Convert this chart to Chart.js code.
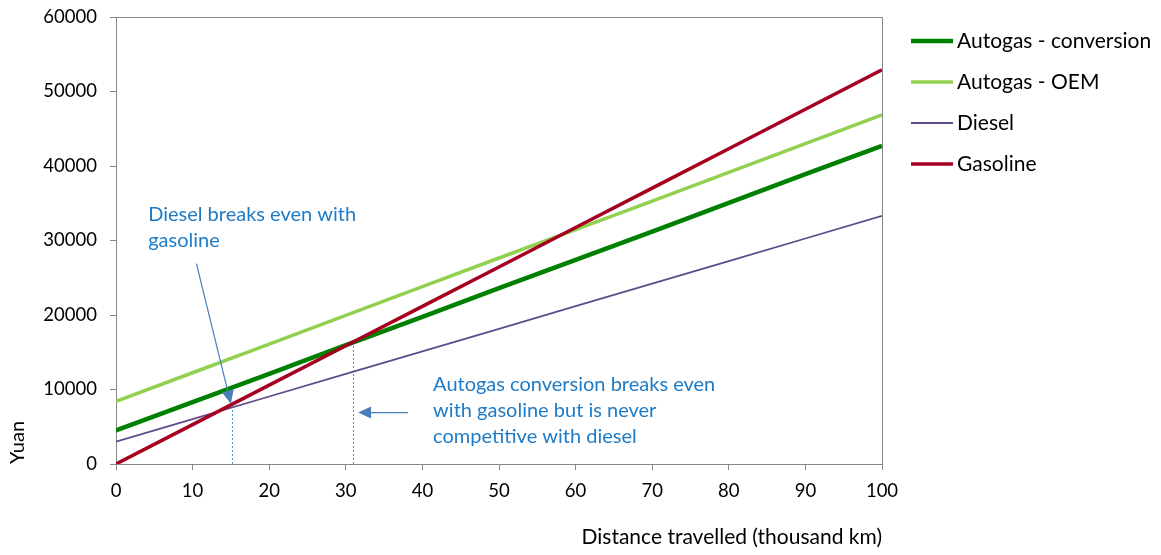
<!DOCTYPE html>
<html>
<head>
<meta charset="utf-8">
<script src="https://cdn.jsdelivr.net/npm/chart.js@4/dist/chart.umd.min.js"></script>
<style>
  html, body { margin: 0; padding: 0; background: #fff; }
  #wrap { width: 1161px; height: 555px; position: relative; }
</style>
</head>
<body>
<div id="wrap"><canvas id="grafico"></canvas></div>
<script>
// distance travelled (thousand km)
const distancia = [0, 10, 20, 30, 40, 50, 60, 70, 80, 90, 100];

// costs in yuan
const autogasConversion = [4500, 8300, 12100, 15950, 19750, 23600, 27400, 31200, 35050, 38900, 42700];
const autogasOEM = [8400, 12250, 16100, 19950, 23800, 27650, 31450, 35300, 39150, 43000, 46850];
const diesel = [3000, 6030, 9060, 12090, 15120, 18150, 21180, 24210, 27240, 30270, 33300];
const gasoline = [0, 5290, 10580, 15870, 21160, 26450, 31740, 37030, 42320, 47610, 52900];

const seriesNames = ['Autogas - conversion', 'Autogas - OEM', 'Diesel', 'Gasoline'];
const yTicks = [0, 10000, 20000, 30000, 40000, 50000, 60000];

// break-even points marked with dashed drop lines (x, y)
const breakEvens = [[15.2, 7700], [31, 16300]];

const FONT = 'Lato, "Open Sans", sans-serif';
const TXT = 20;
const AZUL = '#1f7bc6';
const FLECHA = '#4a7ebb';

function puntos(valores) {
    return distancia.map((d, i) => ({ x: d, y: valores[i] }));
}

// notes and arrows, in data coordinates
const notas = [
    { lineas: ['Diesel breaks even with', 'gasoline'], x: 4.2, y: 33500 },
    { lineas: ['Autogas conversion breaks even', 'with gasoline but is never', 'competitive with diesel'], x: 41.4, y: 10650 }
];
const flechas = [
    { desde: [10.5, 26900], hasta: [15.0, 8100] },
    { desde: [38.1, 6900], hasta: [31.6, 6900] }
];

function flecha(ctx, x1, y1, x2, y2) {
    const ang = Math.atan2(y2 - y1, x2 - x1);
    const largo = 13, ancho = 6;
    const bx = x2 - largo * Math.cos(ang), by = y2 - largo * Math.sin(ang);
    ctx.beginPath();
    ctx.moveTo(x1, y1);
    ctx.lineTo(bx, by);
    ctx.stroke();
    ctx.beginPath();
    ctx.moveTo(x2, y2);
    ctx.lineTo(bx + ancho * Math.sin(ang), by - ancho * Math.cos(ang));
    ctx.lineTo(bx - ancho * Math.sin(ang), by + ancho * Math.cos(ang));
    ctx.closePath();
    ctx.fill();
}

const anotaciones = {
    id: 'anotaciones',
    beforeDatasetsDraw(chart) {
        const { ctx, scales: { x, y } } = chart;
        ctx.save();
        ctx.strokeStyle = '#5b8fd0';
        ctx.lineWidth = 1;
        ctx.setLineDash([2, 2]);
        breakEvens.forEach(([bx, by]) => {
            const px = Math.round(x.getPixelForValue(bx)) + 0.5;
            ctx.beginPath();
            ctx.moveTo(px, y.getPixelForValue(0));
            ctx.lineTo(px, y.getPixelForValue(by));
            ctx.stroke();
        });
        ctx.restore();
    },
    afterDraw(chart) {
        const { ctx, chartArea: a, scales: { x, y } } = chart;
        ctx.save();
        // box round the plot
        ctx.strokeStyle = '#868686';
        ctx.lineWidth = 1;
        ctx.beginPath();
        ctx.moveTo(a.left, a.top + 0.5);
        ctx.lineTo(a.right + 0.5, a.top + 0.5);
        ctx.lineTo(a.right + 0.5, a.bottom);
        ctx.stroke();

        // notes
        ctx.fillStyle = AZUL;
        ctx.font = TXT + 'px ' + FONT;
        ctx.textBaseline = 'middle';
        ctx.textAlign = 'left';
        notas.forEach(n => {
            const px = x.getPixelForValue(n.x), py = y.getPixelForValue(n.y);
            n.lineas.forEach((t, i) => ctx.fillText(t, px, py + i * 26));
        });

        ctx.strokeStyle = FLECHA;
        ctx.fillStyle = FLECHA;
        ctx.lineWidth = 1.2;
        flechas.forEach(f => {
            flecha(ctx, x.getPixelForValue(f.desde[0]), y.getPixelForValue(f.desde[1]),
                x.getPixelForValue(f.hasta[0]), y.getPixelForValue(f.hasta[1]));
        });

        // legend
        ctx.font = '21px ' + FONT;
        ctx.fillStyle = '#000';
        chart.data.datasets.forEach((ds, i) => {
            const ly = a.top + 24 + i * 41;
            ctx.strokeStyle = ds.borderColor;
            ctx.lineWidth = ds.borderWidth;
            ctx.beginPath();
            ctx.moveTo(a.right + 29, ly);
            ctx.lineTo(a.right + 71, ly);
            ctx.stroke();
            ctx.fillText(ds.label, a.right + 75, ly);
        });
        ctx.restore();
    }
};

const ctx = document.getElementById('grafico').getContext('2d');
new Chart(ctx, {
    type: 'line',
    data: {
        datasets: [
            { label: seriesNames[0], data: puntos(autogasConversion), borderColor: '#008000', borderWidth: 4.5, order: 2 },
            { label: seriesNames[1], data: puntos(autogasOEM), borderColor: '#92d050', borderWidth: 3.5, order: 3 },
            { label: seriesNames[2], data: puntos(diesel), borderColor: '#5f4b8b', borderWidth: 1.8, order: 4 },
            { label: seriesNames[3], data: puntos(gasoline), borderColor: '#a50021', borderWidth: 3.5, order: 1 }
        ]
    },
    options: {
        responsive: true,
        maintainAspectRatio: false,
        animation: false,
        elements: { point: { radius: 0 }, line: { tension: 0 } },
        layout: { padding: { top: 17, right: 279, bottom: 0, left: 0 } },
        plugins: { legend: { display: false }, tooltip: { enabled: false } },
        scales: {
            x: {
                type: 'linear',
                min: 0,
                max: 100,
                afterFit(s) { s.height = 91; s.paddingLeft = 0; s.paddingRight = 0; },
                afterBuildTicks(s) { s.ticks = distancia.map(v => ({ value: v })); },
                grid: { drawOnChartArea: false, tickLength: 6, color: '#868686' },
                border: { color: '#868686' },
                ticks: { color: '#000', padding: 10, font: { family: FONT, size: 18.5 }, callback: v => String(v) },
                title: {
                    display: true,
                    text: 'Distance travelled (thousand km)',
                    align: 'end',
                    color: '#000',
                    padding: { top: 0, bottom: 5 },
                    font: { family: FONT, size: 21 }
                }
            },
            y: {
                min: 0,
                max: 60000,
                afterFit(s) { s.width = 116; s.paddingTop = 0; s.paddingBottom = 0; },
                afterBuildTicks(s) { s.ticks = yTicks.map(v => ({ value: v })); },
                grid: { drawOnChartArea: false, tickLength: 6, color: '#868686' },
                border: { color: '#868686' },
                ticks: { color: '#000', padding: 13, font: { family: FONT, size: 18.5 }, callback: v => String(v) },
                title: {
                    display: true,
                    text: 'Yuan',
                    align: 'start',
                    color: '#000',
                    padding: { top: 6, bottom: 0 },
                    font: { family: FONT, size: TXT }
                }
            }
        }
    },
    plugins: [anotaciones]
});
</script>
</body>
</html>
